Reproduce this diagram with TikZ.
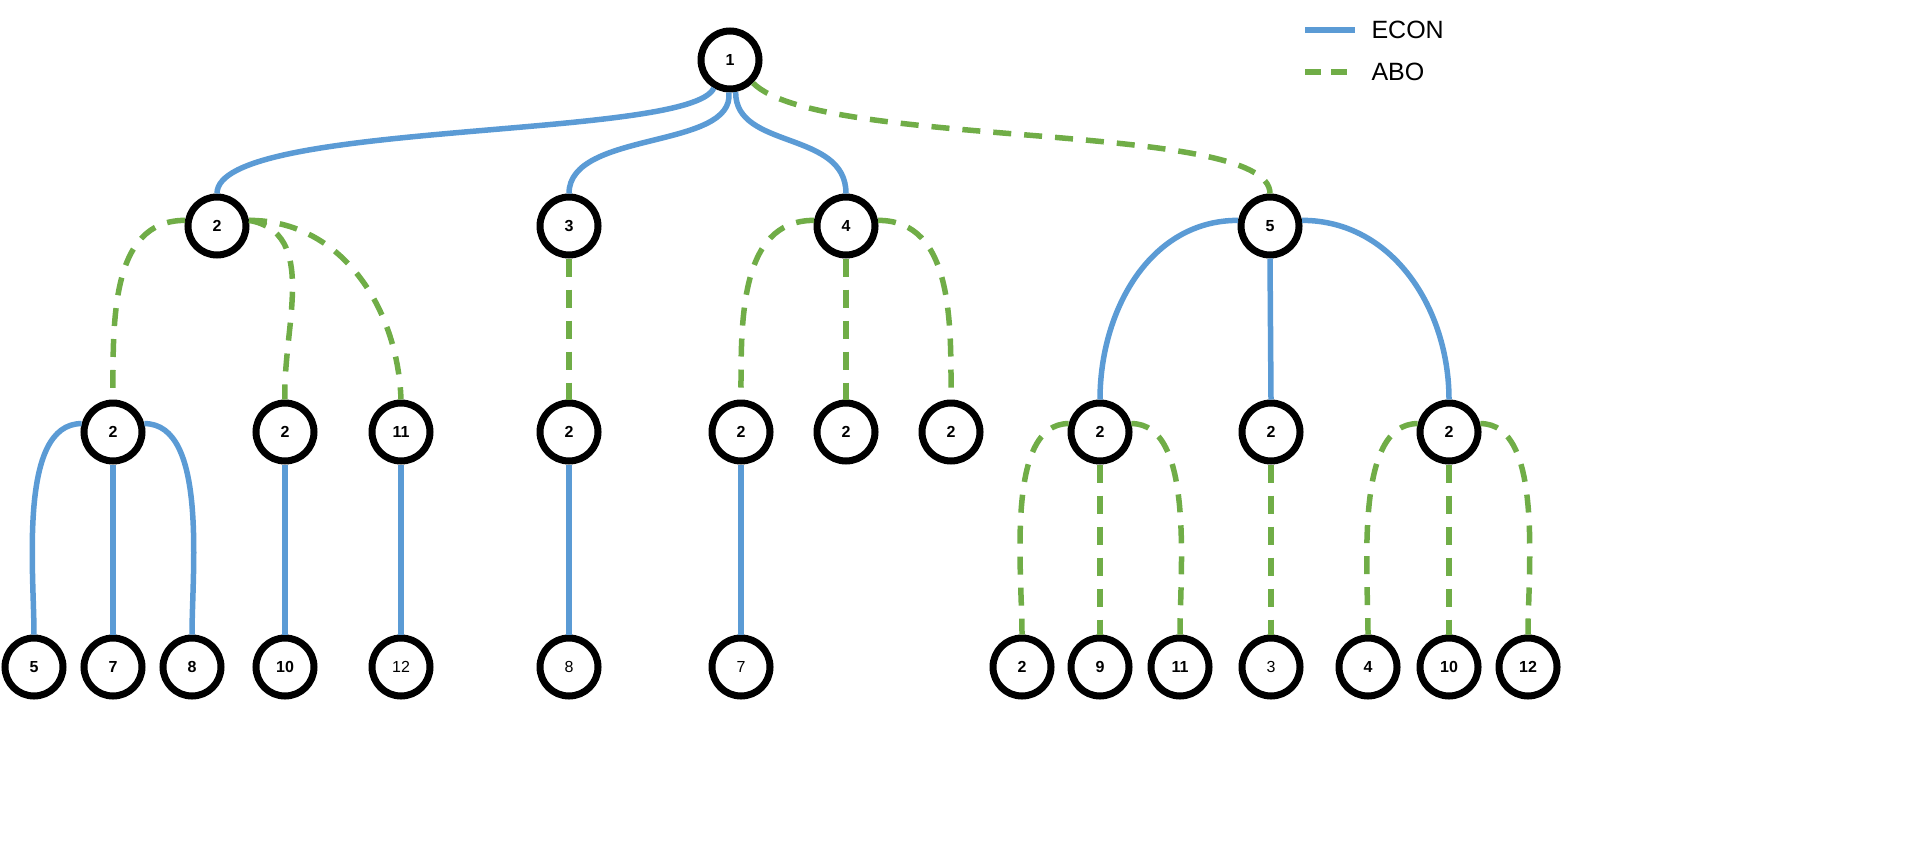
\documentclass[tikz,border=0pt]{standalone}
\usepackage{fontspec}
\setmainfont{Liberation Sans}
\begin{document}
\begin{tikzpicture}[x=1pt,y=-1pt,
  nd/.style={circle,draw=black,line width=7pt,fill=white,minimum size=58pt,inner sep=0pt,font=\fontsize{16}{16}\selectfont\bfseries},
  nn/.style={nd,font=\fontsize{16}{16}\selectfont},
  econ/.style={draw={rgb,255:red,91;green,155;blue,213},line width=5.5pt},
  abo/.style={draw={rgb,255:red,112;green,173;blue,71},line width=5.5pt,dash pattern=on 18pt off 13pt},
  lc/.style={out=180,in=90,looseness=0.75},
  rc/.style={out=0,in=90,looseness=0.75}]
\useasboundingbox (0,0) rectangle (1918,862);
\node[nd] (r) at (730,60) {1};
\node[nd] (a) at (217,226) {2};
\node[nd] (b) at (569,226) {3};
\node[nd] (c) at (846,226) {4};
\node[nd] (d) at (1270,226) {5};
\node[nd] (a1) at (113,432) {2};
\node[nd] (a2) at (285,432) {2};
\node[nd] (a3) at (401,432) {11};
\node[nd] (b1) at (569,432) {2};
\node[nd] (c1) at (741,432) {2};
\node[nd] (c2) at (846,432) {2};
\node[nd] (c3) at (951,432) {2};
\node[nd] (d1) at (1100,432) {2};
\node[nd] (d2) at (1271,432) {2};
\node[nd] (d3) at (1449,432) {2};
\node[nd] (e1) at (34,667) {5};
\node[nd] (e2) at (113,667) {7};
\node[nd] (e3) at (192,667) {8};
\node[nd] (e4) at (285,667) {10};
\node[nn] (e5) at (401,667) {12};
\node[nn] (e6) at (569,667) {8};
\node[nn] (e7) at (741,667) {7};
\node[nd] (f1) at (1022,667) {2};
\node[nd] (f2) at (1100,667) {9};
\node[nd] (f3) at (1180,667) {11};
\node[nn] (f4) at (1271,667) {3};
\node[nd] (f5) at (1368,667) {4};
\node[nd] (f6) at (1449,667) {10};
\node[nd] (f7) at (1528,667) {12};
% level 1
\path[econ] (r.-120) .. controls (690,140) and (217,120) .. (a.north);
\path[econ] (r.-92) .. controls (735,150) and (569,130) .. (b.north);
\path[econ] (r.-80) .. controls (735,150) and (846,130) .. (c.north);
\path[abo] (r.-45) .. controls (820,150) and (1270,120) .. (d.north);
% level 2
\path[abo] (a.170) to[out=180,in=90] (a1.north);
\path[abo] (a.10) to[out=-10,in=92] (a2.north);
\path[abo] (a.10) to[out=0,in=92] (a3.north);
\path[abo] (b.south) -- (b1.north);
\path[abo] (c.170) to[out=180,in=90] (c1.north);
\path[abo] (c.south) -- (c2.north);
\path[abo] (c.10) to[out=0,in=90] (c3.north);
\path[econ] (d.170) to[out=180,in=90] (d1.north);
\path[econ] (d.south) -- (d2.north);
\path[econ] (d.10) to[out=0,in=90] (d3.north);
% level 3
\path[econ] (a1.165) to[lc] (e1.north);
\path[econ] (a1.south) -- (e2.north);
\path[econ] (a1.15) to[rc] (e3.north);
\path[econ] (a2.south) -- (e4.north);
\path[econ] (a3.south) -- (e5.north);
\path[econ] (b1.south) -- (e6.north);
\path[econ] (c1.south) -- (e7.north);
\path[abo] (d1.165) to[lc] (f1.north);
\path[abo] (d1.south) -- (f2.north);
\path[abo] (d1.15) to[rc] (f3.north);
\path[abo] (d2.south) -- (f4.north);
\path[abo] (d3.165) to[lc] (f5.north);
\path[abo] (d3.south) -- (f6.north);
\path[abo] (d3.15) to[rc] (f7.north);
% legend
\coordinate (l1a) at (1305,30); \coordinate (l1b) at (1355,30);
\coordinate (l2a) at (1305,72); \coordinate (l2b) at (1355,72);
\path[econ] (l1a) -- (l1b);
\path[abo,dash pattern=on 16pt off 10pt] (l2a) -- (l2b);
\node[anchor=west,font=\fontsize{25}{25}\selectfont] (t1) at (1368,30) {ECON};
\node[anchor=west,font=\fontsize{25}{25}\selectfont] (t2) at (1368,72) {ABO};
\end{tikzpicture}
\end{document}
